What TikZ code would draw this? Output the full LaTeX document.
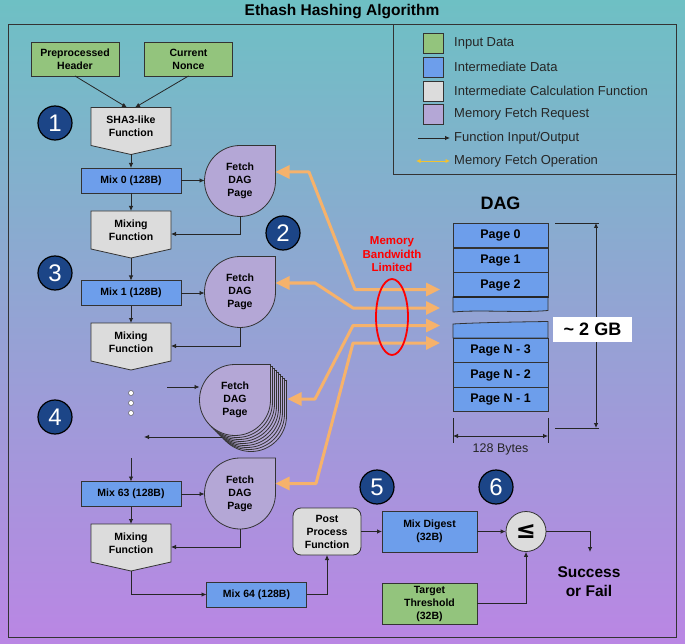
\documentclass[tikz,border=0pt]{standalone}
\usepackage{fontspec}
\setmainfont{Liberation Sans}
\newfontfamily\djv{DejaVu Sans}
\usetikzlibrary{arrows.meta,shapes.geometric,calc}
\definecolor{cgreen}{HTML}{93C47D}
\definecolor{cblue}{HTML}{6D9EEB}
\definecolor{cgray}{HTML}{DCDCDC}
\definecolor{cpurple}{HTML}{B4A7D6}
\definecolor{cnavy}{HTML}{1C4587}
\definecolor{corange}{HTML}{F6B26B}
\definecolor{cyel}{HTML}{F1C232}
\definecolor{bgtop}{RGB}{110,192,196}
\definecolor{bgbot}{RGB}{186,134,228}
\pgfdeclarelayer{back}
\pgfdeclarelayer{shp}
\pgfsetlayers{back,shp,main}
\begin{document}
\begin{tikzpicture}[x=1pt,y=-1pt,
  txt/.style={inner sep=0pt, outer sep=0pt, align=center, text=black, font=\fontsize{10.5}{13}\selectfont\bfseries},
  lnst/.style={draw=black!80, line width=0.8pt},
  inbox/.style={txt, lnst, fill=cgreen, minimum width=88pt, minimum height=34pt},
  mixbox/.style={txt, lnst, fill=cblue, minimum width=100pt, minimum height=25pt},
  pentnode/.style={txt, minimum width=80pt, minimum height=38pt},
  pentshape/.style={lnst, fill=cgray},
  fetchnode/.style={txt, circle, minimum size=71pt},
  fetchshape/.style={lnst, fill=cpurple},
  dagpage/.style={txt, lnst, fill=cblue, minimum width=95pt, minimum height=24.5pt, font=\fontsize{12.5}{15}\selectfont\bfseries},
  dagfill/.style={lnst, fill=cblue},
  numc/.style={circle, draw=black, line width=1.2pt, fill=cnavy, minimum size=34pt, inner sep=0pt, text=white, font=\fontsize{24}{24}\selectfont},
  ioarrow/.style={draw=black!85, line width=0.8pt, -{Latex[length=5pt,width=4.5pt]}},
  dblarrow/.style={draw=black!85, line width=0.8pt, {Latex[length=5pt,width=4.5pt]}-{Latex[length=5pt,width=4.5pt]}},
  memarrow/.style={draw=corange, line width=3pt, line join=round, {Triangle[length=14pt,width=13pt]}-{Triangle[length=14pt,width=13pt]}},
  legtxt/.style={anchor=west, inner sep=0pt, font=\fontsize{13}{15}\selectfont, text=black!85},
  swatch/.style={lnst, minimum size=20pt, inner sep=0pt},
  dotc/.style={circle, fill=white, draw=black!60, line width=0.5pt, minimum size=5pt, inner sep=0pt}
]
\useasboundingbox (0,0) rectangle (685,644);
\begin{pgfonlayer}{back}
  \fill[top color=bgtop, bottom color=bgbot] (0,0) rectangle (685,644);
\end{pgfonlayer}

% title and frames
\node[font=\fontsize{15.5}{18}\selectfont\bfseries, inner sep=0pt] (title) at (342,12) {Ethash Hashing Algorithm};
\draw[black!80, line width=1pt] (8,25) rectangle (676,637);
\draw[black!80, line width=1pt] (393,25) rectangle (676,175);

% legend
\node[swatch, fill=cgreen] (sw1) at (433,43) {};
\node[swatch, fill=cblue] (sw2) at (433,67) {};
\node[swatch, fill=cgray] (sw3) at (433,91) {};
\node[swatch, fill=cpurple] (sw4) at (433,114) {};
\node[legtxt] (lt1) at (454,43) {Input Data};
\node[legtxt] (lt2) at (454,67) {Intermediate Data};
\node[legtxt] (lt3) at (454,91) {Intermediate Calculation Function};
\node[legtxt] (lt4) at (454,114) {Memory Fetch Request};
\node[legtxt] (lt5) at (454,138) {Function Input/Output};
\node[legtxt] (lt6) at (454,161) {Memory Fetch Operation};
\coordinate (la1) at (418,138); \coordinate (la2) at (450,138);
\coordinate (lb1) at (416,161); \coordinate (lb2) at (450,161);
\draw[ioarrow] (la1) -- (la2);
\draw[draw=cyel, line width=0.9pt, {Latex[length=4.5pt,width=4.5pt]}-{Latex[length=4.5pt,width=4.5pt]}] (lb1) -- (lb2);

% inputs
\node[inbox] (hdr) at (75,59) {Preprocessed\\Header};
\node[inbox] (nonce) at (188.5,59) {Current\\Nonce};
\node[pentnode] (sha) at (131,126.5) {SHA3-like\\Function};
\draw[ioarrow] (hdr.south) -- ([xshift=-4pt]sha.north);
\draw[ioarrow] (nonce.south) -- ([xshift=4pt]sha.north);
\node[numc] (n1) at (55,123) {1};

% round 0
\node[mixbox] (mix0) at (131,180.5) {Mix 0 (128B)};
\coordinate (shatip) at ([yshift=-9pt]sha.south);
\draw[ioarrow] (shatip) -- (mix0);
\node[fetchnode] (f1) at (240,181) {Fetch\\DAG\\Page};
\draw[ioarrow] (mix0.east) -- (mix0.east -| f1.west);
\node[pentnode] (mixf1) at (131,230) {Mixing\\Function};
\draw[ioarrow] (mix0) -- (mixf1);
\draw[ioarrow] (f1.south) |- ([yshift=-4pt]mixf1.east);
\node[numc] (n2) at (283,233) {2};

% round 1
\node[numc] (n3) at (55,273) {3};
\node[mixbox] (mix1) at (131,293) {Mix 1 (128B)};
\coordinate (mf1tip) at ([yshift=-9pt]mixf1.south);
\draw[ioarrow] (mf1tip) -- (mix1);
\node[fetchnode] (f2) at (240,292) {Fetch\\DAG\\Page};
\draw[ioarrow] (mix1.east) -- (mix1.east -| f2.west);
\node[pentnode] (mixf2) at (131,342) {Mixing\\Function};
\draw[ioarrow] (mix1) -- (mixf2);
\draw[ioarrow] (f2.south) |- ([yshift=-4pt]mixf2.east);

% repeated rounds
\node[dotc] (d1) at (131,393) {};
\node[dotc] (d2) at (131,403) {};
\node[dotc] (d3) at (131,413) {};
\node[numc] (n4) at (55,417) {4};
\node[fetchnode] (fs) at (235,400) {Fetch\\DAG\\Page};
\coordinate (sin) at (167,387);
\draw[ioarrow] (sin) -- (sin -| fs.west);
\coordinate (sout) at (144,437);
\draw[ioarrow] ($(fs.south)+(-13,1.5)$) -- (sout);

% round 63
\coordinate (m63in) at (131,458);
\node[mixbox] (mix63) at (131,494) {Mix 63 (128B)};
\draw[ioarrow] (m63in) -- (mix63);
\node[fetchnode] (f63) at (240,493.5) {Fetch\\DAG\\Page};
\draw[ioarrow] (mix63.east) -- (mix63.east -| f63.west);
\node[pentnode] (mixf63) at (131,543) {Mixing\\Function};
\draw[ioarrow] (mix63) -- (mixf63);
\draw[ioarrow] (f63.south) |- ([yshift=-4pt]mixf63.east);
\coordinate (mf63tip) at ([yshift=-9pt]mixf63.south);
\node[mixbox] (mix64) at (256.5,594.5) {Mix 64 (128B)};
\draw[ioarrow] (mf63tip) |- (mix64);

% post processing
\node[txt, lnst, fill=cgray, rounded corners=8pt, minimum width=68pt, minimum height=47pt] (post) at (327,531.5) {Post\\Process\\Function};
\draw[ioarrow] (mix64) -| (post);
\node[numc] (n5) at (377,487) {5};
\node[mixbox, minimum width=95pt, minimum height=41pt] (mdig) at (429.5,531.5) {Mix Digest\\(32B)};
\draw[ioarrow] (post) -- (mdig);
\node[numc] (n6) at (496,487) {6};
\node[circle, lnst, fill=cgray, minimum size=40pt, inner sep=0pt, font=\djv\bfseries\fontsize{24}{24}\selectfont] (leq) at (526,531.5) {≤};
\draw[ioarrow] (mdig) -- (leq);
\node[inbox, minimum width=95pt, minimum height=41pt] (target) at (429.5,603.5) {Target\\Threshold\\(32B)};
\draw[ioarrow] (target) -| (leq);
\coordinate (sfin) at (590,552);
\draw[ioarrow] (leq) -| (sfin);
\node[txt, font=\fontsize{15.5}{18.7}\selectfont\bfseries] (sof) at (589,581.5) {Success\\or Fail};

% DAG
\node[inner sep=0pt, font=\fontsize{18}{20}\selectfont\bfseries] (dagt) at (500.5,203) {DAG};
\node[dagpage] (pg0) at (500.5,235.5) {Page 0};
\node[dagpage] (pg1) at (500.5,260.5) {Page 1};
\draw[dagfill] (453,297) -- (453,312) .. controls (480,309.5) and (520,313) .. (548,310.5) -- (548,297) -- cycle;
\node[dagpage] (pg2) at (500.5,285) {Page 2};
\draw[black!85, line width=1.8pt] (pg2.south west) -- (pg2.south east);
\draw[dagfill] (453,338) -- (453,324) .. controls (480,322.5) and (515,322) .. (548,321.5) -- (548,338) -- cycle;
\node[dagpage] (pgn3) at (500.5,350.5) {Page N - 3};
\node[dagpage] (pgn2) at (500.5,375) {Page N - 2};
\node[dagpage] (pgn1) at (500.5,399.5) {Page N - 1};

% size dimension
\coordinate (gt1) at (555,223); \coordinate (gt2) at (599,223);
\coordinate (gb1) at (555,428); \coordinate (gb2) at (599,428);
\draw[black!85, line width=0.8pt] (gt1) -- (gt2);
\draw[black!85, line width=0.8pt] (gb1) -- (gb2);
\coordinate (va) at (596,223); \coordinate (vb) at (596,428);
\draw[dblarrow] (va) -- (vb);
\node[fill=white, minimum width=79pt, minimum height=25pt, inner sep=0pt, font=\fontsize{18}{20}\selectfont\bfseries] (gb) at (592.5,329.5) {\textasciitilde\ 2 GB};

% width dimension
\coordinate (wl1) at (453,418); \coordinate (wl2) at (453,443);
\coordinate (wr1) at (548,418); \coordinate (wr2) at (548,443);
\draw[black!85, line width=0.8pt] (wl1) -- (wl2);
\draw[black!85, line width=0.8pt] (wr1) -- (wr2);
\coordinate (wa) at (453,436); \coordinate (wb) at (548,436);
\draw[dblarrow] (wa) -- (wb);
\node[inner sep=0pt, font=\fontsize{12.5}{14}\selectfont, text=black!85] (wbytes) at (500.5,449) {128 Bytes};

% memory fetch operations
\coordinate (dA) at (440,289.5);
\coordinate (dB) at (440,308);
\coordinate (dC) at (440,325.5);
\coordinate (dD) at (440,343);
\draw[memarrow] (dA) -- (355,289.5) -- (309,172) -- ([yshift=9pt]f1.east);
\draw[memarrow] (dB) -- (353,308) -- (315,283) -- ([yshift=9pt]f2.east);
\draw[memarrow] (dC) -- (353,325.5) -- (315,399) -- ($(fs.east)+(17,-1)$);
\draw[memarrow] (dD) -- (353,343) -- (316,483.5) -- ([yshift=10pt]f63.east);
\node[ellipse, draw=red, line width=1.8pt, minimum width=32pt, minimum height=76pt, inner sep=0pt] (bw) at (392,317) {};
\node[txt, text=red, font=\fontsize{11.5}{13.5}\selectfont\bfseries] (bwt) at (392,254.5) {Memory\\Bandwidth\\Limited};

% shapes behind the texts
\begin{pgfonlayer}{shp}
  \foreach \n in {sha,mixf1,mixf2,mixf63}{
    \draw[pentshape] (\n.north west) -- (\n.north east) -- (\n.south east) -- ([yshift=-9pt]\n.south) -- (\n.south west) -- cycle;
  }
  \foreach \k in {16,14,...,2}{
    \draw[fetchshape] ($(fs.east)+(\k,\k)$) -- ($(fs.east |- fs.north)+(\k,\k)$) -- ($(fs.north)+(\k,\k)$) arc[start angle=90, end angle=360, radius=35.5pt] -- cycle;
  }
  \foreach \n in {f1,f2,fs,f63}{
    \draw[fetchshape] (\n.east) -- (\n.east |- \n.north) -- (\n.north) arc[start angle=90, end angle=360, radius=35.5pt] -- cycle;
  }
\end{pgfonlayer}
\end{tikzpicture}
\end{document}
